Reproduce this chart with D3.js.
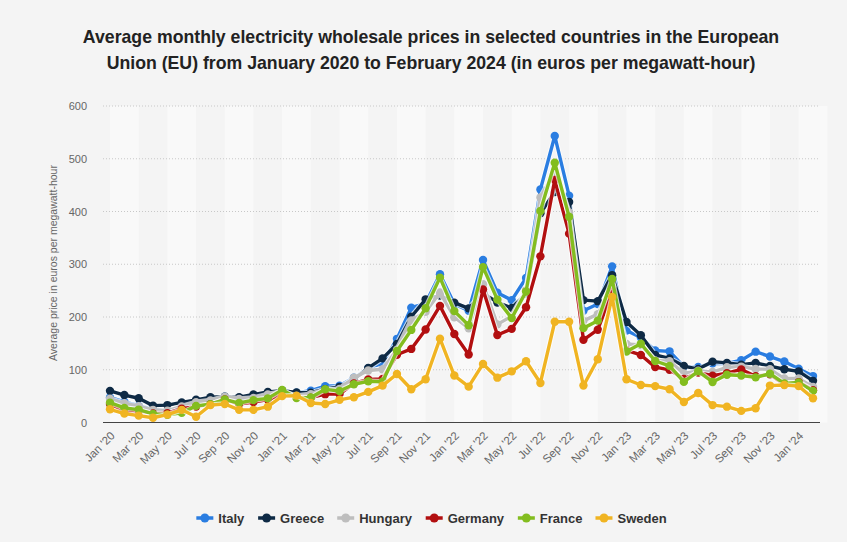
<!DOCTYPE html>
<html>
<head>
<meta charset="utf-8">
<script src="https://cdn.jsdelivr.net/npm/d3@7"></script>
<style>
  body { margin: 0; background: #f4f4f4; }
  svg { display: block; font-family: "Liberation Sans", Arial, Helvetica, sans-serif; }
</style>
</head>
<body>
<div id="container"></div>
<script>
/* CONSTANTS AND GLOBALS */
const width = 847;
const height = 542;

/* DATA */
const months = [
  "Jan '20","Feb '20","Mar '20","Apr '20","May '20","Jun '20","Jul '20","Aug '20","Sep '20","Oct '20","Nov '20","Dec '20",
  "Jan '21","Feb '21","Mar '21","Apr '21","May '21","Jun '21","Jul '21","Aug '21","Sep '21","Oct '21","Nov '21","Dec '21",
  "Jan '22","Feb '22","Mar '22","Apr '22","May '22","Jun '22","Jul '22","Aug '22","Sep '22","Oct '22","Nov '22","Dec '22",
  "Jan '23","Feb '23","Mar '23","Apr '23","May '23","Jun '23","Jul '23","Aug '23","Sep '23","Oct '23","Nov '23","Dec '23",
  "Jan '24","Feb '24"
];
const tickLabels = months.filter((d, i) => i % 2 === 0);
const yTicks = [0, 100, 200, 300, 400, 500, 600];

const countries = ["Italy", "Greece", "Hungary", "Germany", "France", "Sweden"];

const italy = [47.5,39.3,32.0,24.8,21.8,28.0,38.0,40.3,48.8,43.6,48.8,54.0,
  60.7,56.6,60.4,69.0,69.9,84.8,102.7,112.4,158.6,217.6,225.9,281.2,
  224.5,211.7,308.1,245.9,232.0,274.0,441.6,543.2,429.9,211.9,224.5,296.0,
  174.5,161.1,136.4,134.9,105.7,105.3,112.1,111.9,118.0,134.3,125.0,115.5,
  102.0,88.0];
const greece = [60,52,46,32,33,38,43,48,49,48,53,58,
  60.5,56.9,56.6,63.3,67.6,81.6,103.6,121.6,148.7,200.4,233.5,240.6,
  227.1,216.4,245.4,227.6,217.3,244.4,396.7,436.9,418.0,232.0,230.0,279.3,
  190.4,165.5,128.2,121.5,107.0,101.3,115.4,113.0,109.6,113.0,107.0,101.0,
  97.0,79.0];
const hungary = [45.0,36.4,30.8,23.6,22.4,30.4,38.3,41.6,48.9,44.5,46.4,53.3,
  58.4,50.1,53.8,60.8,63.7,84.7,98.6,101.0,138.1,193.3,209.9,246.4,
  199.5,178.8,262.0,186.0,201.6,250.8,426.6,475.8,398.4,192.7,205.5,257.7,
  148.8,146.8,117.6,116.0,93.1,98.0,95.6,104.6,106.0,101.5,101.0,83.3,
  83.7,67.6];
const germany = [35.0,21.9,22.5,17.1,17.6,26.2,30.1,34.7,43.6,34.9,38.8,43.5,
  52.8,48.0,47.2,53.7,53.9,74.1,81.5,82.7,128.4,139.5,176.2,221.1,
  167.9,128.8,252.0,165.8,177.5,218.5,315.0,460.0,358.0,156.8,175.9,248.0,
  136.8,128.0,105.0,99.9,82.6,94.6,88.7,93.4,100.6,87.7,91.2,72.0,
  76.6,61.3];
const france = [37.6,27.6,24.5,16.4,14.7,18.2,31.5,34.7,43.6,36.9,42.4,45.8,
  61.9,46.5,47.4,62.9,59.7,72.5,78.1,77.3,135.7,175.5,216.7,274.6,
  211.2,184.3,294.6,233.0,197.9,248.2,400.9,492.4,390.0,178.9,193.1,271.9,
  134.5,149.4,116.6,107.3,77.0,97.1,76.9,90.5,89.2,85.6,92.4,74.0,
  76.0,60.0];
const sweden = [25,17,13,9,15,24,11,33,35,24,24,30,
  50,51,37,35,43,48,58,70,92,63,82,159,
  89,68,111,85,97,116,75,191,191,70,120,238,
  82,71,69,63,39,56,33,30,22,27,70,71,
  69,46];

const seriesValues = [italy, greece, hungary, germany, france, sweden];
const colors = ["#2a7de1", "#0e2a45", "#bebebe", "#b20f10", "#83bd1f", "#f0b422"];

const series = countries.map((name, i) => ({
  name: name,
  color: colors[i],
  values: seriesValues[i].map((v, j) => ({ month: months[j], value: v }))
}));

/* SVG */
const svg = d3.select("#container")
  .append("svg")
  .attr("width", width)
  .attr("height", height)
  .style("background-color", "#f4f4f4");

/* SCALES */
const plotLeft = 103, plotRight = 820;
const xScale = d3.scalePoint()
  .domain(months)
  .range([110, 813]);

const yScale = d3.scaleLinear()
  .domain([0, 600])
  .range([422.5, 106]);

/* BACKGROUND BANDS */
const bandStarts = tickLabels.filter((d, i) => i % 2 === 0);
svg.selectAll(".band")
  .data(bandStarts)
  .join("rect")
  .attr("class", "band")
  .attr("x", d => xScale(d))
  .attr("y", yScale(600))
  .attr("width", xScale.step() * 2)
  .attr("height", yScale(0) - yScale(600))
  .attr("fill", "#f9f9f9");

/* GRID */
svg.selectAll(".grid")
  .data(yTicks.filter(d => d > 0))
  .join("line")
  .attr("class", "grid")
  .attr("x1", plotLeft)
  .attr("x2", plotRight)
  .attr("y1", d => yScale(d))
  .attr("y2", d => yScale(d))
  .attr("stroke", "#c8c8c8")
  .attr("stroke-width", 1)
  .attr("stroke-dasharray", "1,2");

/* Y AXIS */
const yAxis = d3.axisLeft(yScale)
  .tickValues(yTicks)
  .tickSize(0)
  .tickPadding(0);
svg.append("g")
  .attr("transform", "translate(87,0)")
  .call(yAxis)
  .call(g => g.select(".domain").remove())
  .call(g => g.selectAll("text")
    .attr("fill", "#666")
    .style("font-size", "11px")
    .style("font-family", "Liberation Sans, Arial, sans-serif"));

svg.append("text")
  .attr("transform", "translate(57,263) rotate(-90)")
  .attr("text-anchor", "middle")
  .attr("fill", "#666")
  .style("font-size", "10.5px")
  .text("Average price in euros per megawatt-hour");

/* X AXIS */
const xAxis = d3.axisBottom(xScale)
  .tickValues(tickLabels)
  .tickSize(0)
  .tickPadding(0);
svg.append("g")
  .attr("transform", `translate(0,${yScale(0)})`)
  .call(xAxis)
  .call(g => g.select(".domain").remove())
  .call(g => g.selectAll("text")
    .attr("fill", "#666")
    .style("font-size", "11.5px")
    .style("font-family", "Liberation Sans, Arial, sans-serif")
    .attr("text-anchor", "end")
    .attr("dy", null)
    .attr("y", 0)
    .attr("transform", "translate(5,14) rotate(-45)"));

svg.append("line")
  .attr("x1", plotLeft)
  .attr("x2", plotRight)
  .attr("y1", yScale(0))
  .attr("y2", yScale(0))
  .attr("stroke", "#444")
  .attr("stroke-width", 1.2);

/* LINES */
const line = d3.line()
  .x(d => xScale(d.month))
  .y(d => yScale(d.value));

const groups = svg.selectAll(".series")
  .data(series)
  .join("g")
  .attr("class", "series");

groups.append("path")
  .attr("d", d => line(d.values))
  .attr("fill", "none")
  .attr("stroke", "#ffffff")
  .attr("stroke-opacity", 0.7)
  .attr("stroke-width", 5.5)
  .attr("stroke-linejoin", "round");

groups.append("path")
  .attr("d", d => line(d.values))
  .attr("fill", "none")
  .attr("stroke", d => d.color)
  .attr("stroke-width", 3.4)
  .attr("stroke-linejoin", "round");

groups.selectAll("circle")
  .data(d => d.values.map(v => ({ ...v, color: d.color })))
  .join("circle")
  .attr("cx", d => xScale(d.month))
  .attr("cy", d => yScale(d.value))
  .attr("r", 4.2)
  .attr("fill", d => d.color);

/* TITLE */
const title = svg.append("text")
  .attr("x", 431)
  .attr("text-anchor", "middle")
  .attr("fill", "#222")
  .style("font-size", "17.7px")
  .style("font-weight", "bold");
title.append("tspan").attr("x", 431).attr("y", 43)
  .text("Average monthly electricity wholesale prices in selected countries in the European");
title.append("tspan").attr("x", 431).attr("y", 69)
  .text("Union (EU) from January 2020 to February 2024 (in euros per megawatt-hour)");

/* LEGEND */
const legend = svg.append("g").attr("transform", "translate(0,518)");
let lx = 0;
const items = legend.selectAll(".item")
  .data(series)
  .join("g")
  .attr("class", "item");
items.append("line")
  .attr("x1", 0).attr("x2", 17)
  .attr("stroke", d => d.color)
  .attr("stroke-width", 3.5);
items.append("circle")
  .attr("cx", 8.5).attr("r", 4.5)
  .attr("fill", d => d.color);
items.append("text")
  .attr("x", 22)
  .attr("dy", "0.35em")
  .attr("fill", "#333")
  .style("font-size", "13px")
  .style("font-weight", "bold")
  .text(d => d.name);
items.each(function () {
  const w = this.getBBox().width;
  d3.select(this).attr("transform", `translate(${lx},0)`);
  lx += w + 13;
});
const legendWidth = lx - 13;
legend.attr("transform", `translate(${431.5 - legendWidth / 2},518)`);
</script>
</body>
</html>
